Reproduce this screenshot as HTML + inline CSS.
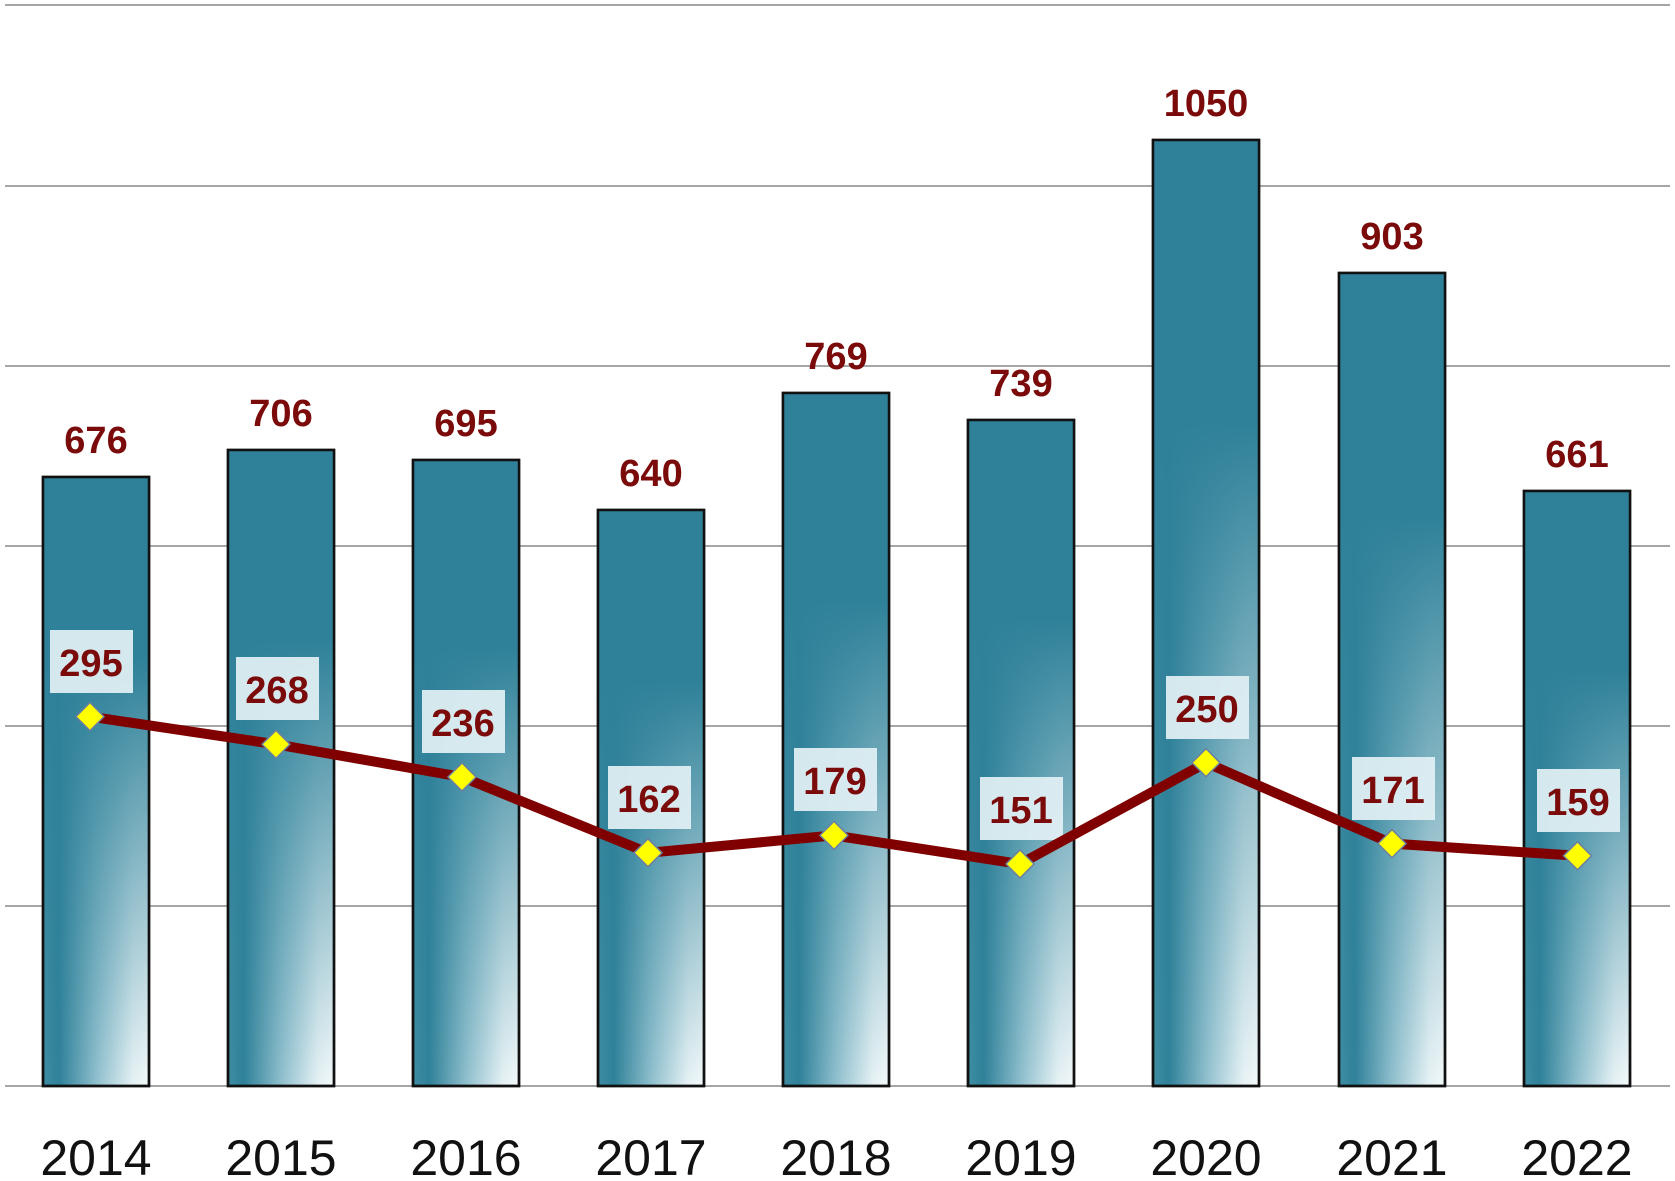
<!DOCTYPE html>
<html><head><meta charset="utf-8"><style>
html,body{margin:0;padding:0;background:#fff;}
svg{display:block;}
.v{font-family:"Liberation Sans",sans-serif;font-weight:bold;font-size:38px;fill:#7b0a0a;text-anchor:middle;}
.y{font-family:"Liberation Sans",sans-serif;font-size:50px;fill:#111;text-anchor:middle;}
</style></head><body>
<svg width="1675" height="1181" viewBox="0 0 1675 1181" xmlns="http://www.w3.org/2000/svg">
<defs>
<linearGradient id="h" x1="0" y1="0" x2="1" y2="0">
<stop offset="0" stop-color="#3f8da3"/><stop offset="0.15" stop-color="#2f8199"/>
<stop offset="0.5" stop-color="#8fbfcd"/><stop offset="0.85" stop-color="#e6f2f5"/><stop offset="1" stop-color="#f4f9fa"/>
</linearGradient>
<linearGradient id="vv" x1="0" y1="0" x2="0" y2="1">
<stop offset="0" stop-color="#2f8199" stop-opacity="1"/><stop offset="0.3" stop-color="#2f8199" stop-opacity="1"/>
<stop offset="1" stop-color="#2f8199" stop-opacity="0"/>
</linearGradient>
</defs>
<g stroke="#a6a6a6" stroke-width="2">
<line x1="5" y1="5" x2="1670" y2="5"/><line x1="5" y1="186" x2="1670" y2="186"/>
<line x1="5" y1="366" x2="1670" y2="366"/><line x1="5" y1="546" x2="1670" y2="546"/>
<line x1="5" y1="726" x2="1670" y2="726"/><line x1="5" y1="906" x2="1670" y2="906"/>
<line x1="5" y1="1086" x2="1670" y2="1086"/>
</g>
<g stroke="#111" stroke-width="2.5">
<rect x="43" y="477" width="106" height="609" fill="url(#h)"/><rect x="43" y="477" width="106" height="609" fill="url(#vv)"/>
<rect x="228" y="450" width="106" height="636" fill="url(#h)"/><rect x="228" y="450" width="106" height="636" fill="url(#vv)"/>
<rect x="413" y="460" width="106" height="626" fill="url(#h)"/><rect x="413" y="460" width="106" height="626" fill="url(#vv)"/>
<rect x="598" y="510" width="106" height="576" fill="url(#h)"/><rect x="598" y="510" width="106" height="576" fill="url(#vv)"/>
<rect x="783" y="393" width="106" height="693" fill="url(#h)"/><rect x="783" y="393" width="106" height="693" fill="url(#vv)"/>
<rect x="968" y="420" width="106" height="666" fill="url(#h)"/><rect x="968" y="420" width="106" height="666" fill="url(#vv)"/>
<rect x="1153" y="140" width="106" height="946" fill="url(#h)"/><rect x="1153" y="140" width="106" height="946" fill="url(#vv)"/>
<rect x="1339" y="273" width="106" height="813" fill="url(#h)"/><rect x="1339" y="273" width="106" height="813" fill="url(#vv)"/>
<rect x="1524" y="491" width="106" height="595" fill="url(#h)"/><rect x="1524" y="491" width="106" height="595" fill="url(#vv)"/>
</g>
<g class="v">
<text x="96" y="453">676</text><text x="281" y="426">706</text><text x="466" y="436">695</text>
<text x="651" y="486">640</text><text x="836" y="369">769</text><text x="1021" y="396">739</text>
<text x="1206" y="116">1050</text><text x="1392" y="249">903</text><text x="1577" y="467">661</text>
</g>
<g fill="#e1f0f4" fill-opacity="0.93">
<rect x="50" y="630" width="83" height="63"/><rect x="236" y="657" width="83" height="63"/>
<rect x="422" y="690" width="83" height="63"/><rect x="608" y="766" width="83" height="63"/>
<rect x="794" y="748" width="83" height="63"/><rect x="980" y="777" width="83" height="63"/>
<rect x="1166" y="676" width="83" height="63"/><rect x="1352" y="757" width="83" height="63"/>
<rect x="1537" y="769" width="83" height="63"/>
</g>
<g class="v">
<text x="91" y="676">295</text><text x="277" y="703">268</text><text x="463" y="736">236</text>
<text x="649" y="812">162</text><text x="835" y="794">179</text><text x="1021" y="823">151</text>
<text x="1207" y="722">250</text><text x="1393" y="803">171</text><text x="1578" y="815">159</text>
</g>
<polyline points="90,716.6 276,744.3 462,777 648,852.8 834,835.4 1020,864 1206,762.7 1392,843.6 1577.5,855.8" fill="none" stroke="#800000" stroke-width="10" stroke-linejoin="round"/>
<g fill="#ffff00" stroke="#6c7fa0" stroke-width="1.5">
<path d="M90 702.6 L104 716.6 L90 730.6 L76 716.6Z"/><path d="M276 730.3 L290 744.3 L276 758.3 L262 744.3Z"/>
<path d="M462 763 L476 777 L462 791 L448 777Z"/><path d="M648 838.8 L662 852.8 L648 866.8 L634 852.8Z"/>
<path d="M834 821.4 L848 835.4 L834 849.4 L820 835.4Z"/><path d="M1020 850 L1034 864 L1020 878 L1006 864Z"/>
<path d="M1206 748.7 L1220 762.7 L1206 776.7 L1192 762.7Z"/><path d="M1392 829.6 L1406 843.6 L1392 857.6 L1378 843.6Z"/>
<path d="M1577.5 841.8 L1591.5 855.8 L1577.5 869.8 L1563.5 855.8Z"/>
</g>
<g class="y">
<text x="96" y="1175">2014</text><text x="281" y="1175">2015</text><text x="466" y="1175">2016</text>
<text x="651" y="1175">2017</text><text x="836" y="1175">2018</text><text x="1021" y="1175">2019</text>
<text x="1206" y="1175">2020</text><text x="1392" y="1175">2021</text><text x="1577" y="1175">2022</text>
</g>
</svg>
</body></html>
